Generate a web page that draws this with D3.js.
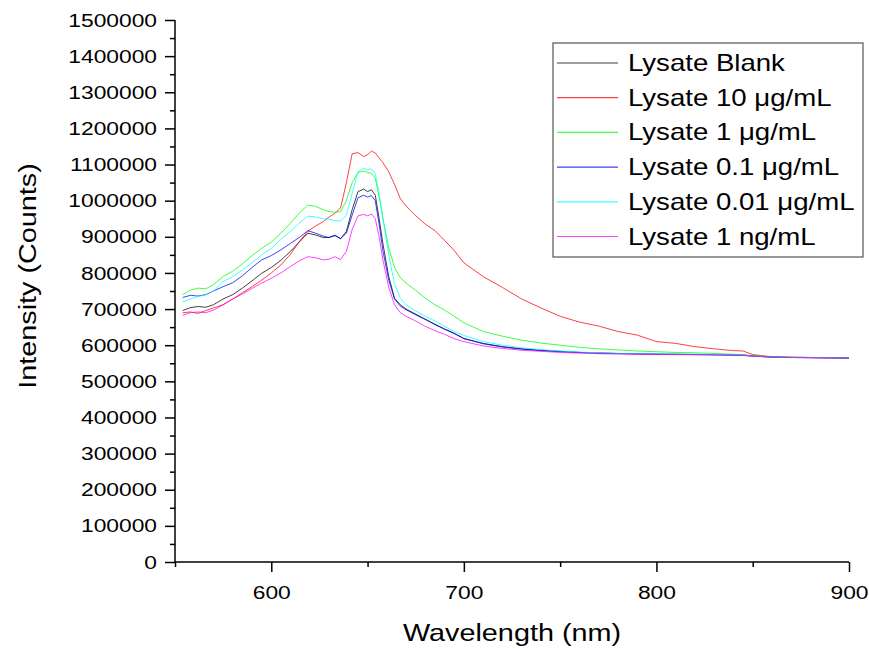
<!DOCTYPE html>
<html>
<head>
<meta charset="utf-8">
<title>Lysate spectra</title>
<style>
  body { margin: 0; background: #fff; }
  text { font-family: "Liberation Sans", Arial, sans-serif; fill: #000; }
  .axis path, .axis line { stroke: #000; stroke-width: 1.5; }
</style>
</head>
<body>
<svg width="869" height="649"></svg>
<script src="https://d3js.org/d3.v7.min.js"></script>
<script>
// wavelength grid (nm)
var wavelength = [554,558,562,566,570,575,580,585,590,595,600,605,610,615,619,623,627,630,633,636,
  639,642,645,648,650,652,654,656,658,661,664,667,670,675,680,685,690,695,700,710,
  720,730,740,750,760,770,780,790,800,810,820,830,840,845,850,860,870,880,890,900];

var blank = [696000,704000,707000,705000,712000,728000,740000,758000,778000,799000,815000,835000,860000,888000,910000,905000,898000,898000,903000,895000,
  915000,975000,1025000,1032000,1025000,1030000,1015000,950000,880000,790000,730000,712000,700000,686000,672000,658000,645000,633000,618000,605000,
  596000,590000,586000,583000,580000,578500,577000,576000,575000,574500,574000,573500,572500,572000,570000,567000,566000,565500,565000,564500];

var ug10 = [690000,692000,688000,696000,703000,712000,728000,745000,762000,780000,800000,822000,852000,890000,915000,930000,942000,955000,965000,980000,
  1050000,1130000,1133000,1122000,1127000,1137000,1132000,1118000,1105000,1080000,1045000,1006000,985000,958000,935000,917000,890000,862000,828000,790000,
  760000,728000,703000,680000,664000,653000,638000,628000,610000,605000,596000,590000,585000,584000,574000,568000,567000,566000,565500,565000];

var ug1 = [740000,752000,758000,756000,768000,790000,805000,825000,848000,868000,885000,910000,938000,968000,988000,984000,975000,970000,968000,970000,
  1000000,1050000,1078000,1082000,1078000,1076000,1062000,1010000,950000,870000,815000,787000,772000,752000,730000,712000,697000,680000,662000,638000,
  625000,614000,606000,600000,594000,590000,587000,584000,582000,580000,579000,577000,575000,574000,571000,568000,567000,566000,565500,565000];

var ug01 = [732000,738000,736000,740000,750000,762000,773000,792000,815000,836000,848000,864000,882000,900000,917000,910000,902000,898000,905000,895000,
  910000,960000,1008000,1015000,1010000,1014000,1000000,935000,860000,780000,728000,708000,698000,684000,671000,657000,644000,632000,619000,604000,
  595000,589000,585000,582000,580000,578000,577000,576000,575500,575000,574500,574000,573000,572500,570000,567000,566000,565500,565000,564500];

var ug001 = [720000,728000,735000,740000,750000,776000,790000,808000,828000,850000,868000,893000,915000,940000,957000,955000,950000,948000,945000,944000,
  960000,1020000,1080000,1090000,1085000,1088000,1075000,1020000,950000,850000,770000,730000,712000,695000,680000,667000,652000,638000,627000,610000,
  600000,593000,588000,584000,581000,579000,577500,576500,576000,575500,575000,574500,573500,573000,570000,567000,566500,566000,565500,565000];

var ng1 = [683000,690000,692000,690000,697000,712000,728000,742000,757000,772000,785000,800000,818000,835000,845000,842000,836000,838000,845000,837000,
  860000,920000,958000,962000,958000,963000,950000,900000,835000,760000,712000,690000,680000,667000,652000,640000,630000,618000,610000,598000,
  591000,586000,583000,580000,578000,576500,575500,575000,574500,574000,573500,573000,572000,571500,569500,567000,566000,565500,565000,564500];

var seriesNames = ["Lysate Blank", "Lysate 10 \u03bcg/mL", "Lysate 1 \u03bcg/mL", "Lysate 0.1 \u03bcg/mL", "Lysate 0.01 \u03bcg/mL", "Lysate 1 ng/mL"];
var seriesValues = [blank, ug10, ug1, ug01, ug001, ng1];
var seriesColors = ["#000000", "#ff0000", "#00ff00", "#0000ff", "#00ffff", "#ff00ff"];

var xTicks = [600, 700, 800, 900];
var yTicks = d3.range(0, 1500001, 100000);

var svg = d3.select("svg");
var sx = 1.2; // text looks horizontally stretched in the reference

var x = d3.scaleLinear().domain([550, 900]).range([175, 849]);
var y = d3.scaleLinear().domain([0, 1500000]).range([562, 20]);

// minor ticks first
svg.append("g")
    .attr("class", "axis")
    .attr("transform", "translate(0,562)")
    .call(d3.axisBottom(x).tickValues([550, 650, 750, 850]).tickSize(5).tickFormat(""))
    .select(".domain").remove();

svg.append("g")
    .attr("class", "axis")
    .attr("transform", "translate(175,0)")
    .call(d3.axisLeft(y).tickValues(d3.range(50000, 1500000, 100000)).tickSize(5).tickFormat(""))
    .select(".domain").remove();

var gX = svg.append("g")
    .attr("class", "axis")
    .attr("transform", "translate(0,562)")
    .call(d3.axisBottom(x).tickValues(xTicks).tickSize(10).tickSizeOuter(0).tickPadding(14));
gX.select(".domain").attr("d", "M" + x.range()[0] + ",0H" + x.range()[1]);
gX.selectAll("text")
    .attr("font-size", 19)
    .attr("transform", "scale(" + sx + ",1)");

var gY = svg.append("g")
    .attr("class", "axis")
    .attr("transform", "translate(175,0)")
    .call(d3.axisLeft(y).tickValues(yTicks).tickSize(10).tickSizeOuter(0).tickFormat(d3.format("d")));
gY.select(".domain").attr("d", "M0," + y.range()[0] + "V" + y.range()[1]);
gY.selectAll("text")
    .attr("font-size", 19)
    .attr("x", -15)
    .attr("transform", "scale(" + sx + ",1)");

// axis titles
svg.append("text")
    .attr("transform", "translate(512,641) scale(" + sx + ",1)")
    .attr("text-anchor", "middle")
    .attr("font-size", 24)
    .text("Wavelength (nm)");

svg.append("text")
    .attr("transform", "translate(36,276) rotate(-90) scale(" + sx + ",1)")
    .attr("text-anchor", "middle")
    .attr("font-size", 24)
    .text("Intensity (Counts)");

// lines
var line = d3.line()
    .x(function(d, i) { return x(wavelength[i]); })
    .y(function(d) { return y(d); });

svg.append("g").selectAll("path")
    .data(seriesValues)
    .join("path")
    .attr("fill", "none")
    .attr("stroke", function(d, i) { return seriesColors[i]; })
    .attr("stroke-width", 1)
    .attr("stroke-opacity", 0.75)
    .attr("d", line);

// legend
var legend = svg.append("g").attr("transform", "translate(553,43)");
legend.append("rect")
    .attr("width", 310).attr("height", 214)
    .attr("fill", "#fff").attr("stroke", "#555").attr("stroke-width", 1.2);

var rows = legend.selectAll("g.row")
    .data(seriesNames)
    .join("g")
    .attr("class", "row")
    .attr("transform", function(d, i) { return "translate(0," + (20 + i * 34.7) + ")"; });

rows.append("line")
    .attr("x1", 4).attr("x2", 65)
    .attr("stroke", function(d, i) { return seriesColors[i]; })
    .attr("stroke-opacity", 0.75)
    .attr("stroke-width", 1.2);

rows.append("text")
    .attr("transform", "translate(75,0) scale(" + sx + ",1)")
    .attr("dy", "0.35em")
    .attr("font-size", 23)
    .text(function(d) { return d; });
</script>
</body>
</html>
